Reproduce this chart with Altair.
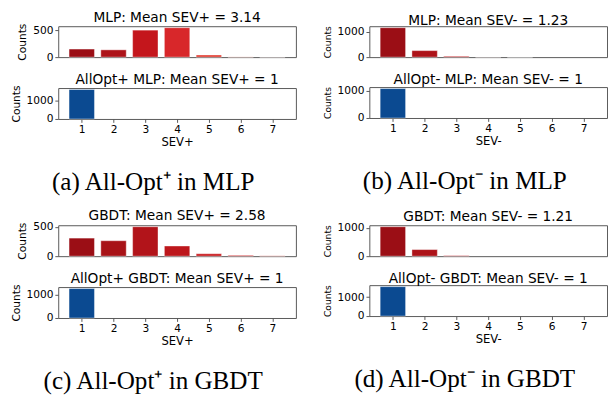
import altair as alt
import pandas as pd

bins = [1, 2, 3, 4, 5, 6, 7]

a_top = [150, 135, 500, 545, 40, 4, 1]
a_bot = [1580, 0, 0, 0, 0, 0, 0]
b_top = [1170, 260, 35, 2, 1, 0, 0]
b_bot = [1080, 0, 0, 0, 0, 0, 0]
c_top = [310, 265, 505, 175, 42, 15, 6]
c_bot = [1270, 0, 0, 0, 0, 0, 0]
d_top = [1040, 233, 20, 0, 0, 0, 0]
d_bot = [1560, 0, 0, 0, 0, 0, 0]

reds_fast = ["#9b0e15", "#ad1319", "#c4161c", "#d8272a", "#e23a2f", "#ec5a43", "#f4785c"]
reds_slow = ["#9b0e15", "#a81217", "#b2141a", "#bd171c", "#c91d21", "#d42527", "#de3a30"]
blues = ["#0b4a91"] * 7

titles = {
    "a_top": "MLP: Mean SEV+ = 3.14", "a_bot": "AllOpt+ MLP: Mean SEV+ = 1",
    "b_top": "MLP: Mean SEV- = 1.23", "b_bot": "AllOpt- MLP: Mean SEV- = 1",
    "c_top": "GBDT: Mean SEV+ = 2.58", "c_bot": "AllOpt+ GBDT: Mean SEV+ = 1",
    "d_top": "GBDT: Mean SEV- = 1.21", "d_bot": "AllOpt- GBDT: Mean SEV- = 1",
}
captions = {
    "a": "(a) All-Opt\u207a in MLP", "b": "(b) All-Opt\u207b in MLP",
    "c": "(c) All-Opt\u207a in GBDT", "d": "(d) All-Opt\u207b in GBDT",
}

SANS = "DejaVu Sans"
SERIF = "Liberation Serif"
FRAME = "#555555"

lo, hi = bins[0] - 0.4, bins[-1] + 0.4
pad = 0.05 * (hi - lo)
XDOM = [lo - pad, hi + pad]


def hist(counts, colors, ticks, title, xtitle, width, yts):
    df = pd.DataFrame({"bin": bins, "count": counts, "col": colors})
    if xtitle is None:
        xaxis = None
    else:
        xaxis = alt.Axis(values=bins, format="d", title=xtitle, tickSize=3.5,
                         tickColor=FRAME, labelFontSize=11, titleFontSize=12,
                         labelPadding=1, titlePadding=3, domain=False, grid=False,
                         labelFont=SANS, titleFont=SANS, titleFontWeight="normal",
                         labelColor="black", titleColor="black")
    yaxis = alt.Axis(values=ticks, format="d", title="Counts", tickSize=3.5,
                     tickColor=FRAME, labelFontSize=11, titleFontSize=yts,
                     labelPadding=2, titlePadding=5, domain=False, grid=False,
                     labelFont=SANS, titleFont=SANS, titleFontWeight="normal",
                     labelColor="black", titleColor="black")
    ymax = max(counts) * 1.05
    return (
        alt.Chart(df)
        .transform_filter("datum.count > 0")
        .transform_calculate(x0="datum.bin - 0.4", x1="datum.bin + 0.4")
        .mark_bar(stroke="white", strokeWidth=0.7, strokeOpacity=0.6)
        .encode(
            x=alt.X("x0:Q", scale=alt.Scale(domain=XDOM, nice=False, zero=False), axis=xaxis),
            x2="x1:Q",
            y=alt.Y("count:Q", scale=alt.Scale(domain=[0, ymax], nice=False), axis=yaxis),
            y2=alt.datum(0),
            color=alt.Color("col:N", scale=None, legend=None),
        )
        .properties(
            width=width, height=32,
            title=alt.TitleParams(title, font=SANS, fontSize=14.2, fontWeight="normal",
                                  color="black", offset=-2),
        )
    )


def panel(key, top, bot, tcolors, ttick, btick, xtitle, width, yts):
    t = hist(top, tcolors, ttick, titles[key + "_top"], None, width, yts)
    b = hist(bot, blues, btick, titles[key + "_bot"], xtitle, width, yts)
    return alt.vconcat(t, b, spacing=10).properties(
        title=alt.TitleParams(captions[key], orient="bottom", font=SERIF, fontSize=26,
                              fontWeight="normal", color="black", offset=22,
                              anchor="middle", frame="bounds")
    )


pa = panel("a", a_top, a_bot, reds_fast, [0, 500], [0, 1000], "SEV+", 246, 11)
pb = panel("b", b_top, b_bot, reds_fast, [0, 1000], [0, 1000], "SEV-", 246, 9.5)
pc = panel("c", c_top, c_bot, reds_slow, [0, 500], [0, 1000], "SEV+", 246, 11)
pd_ = panel("d", d_top, d_bot, reds_fast, [0, 1000], [0, 1000], "SEV-", 246, 9.5)

row1 = alt.hconcat(pa, pb, spacing=26)
row2 = alt.hconcat(pc, pd_, spacing=26)

chart = (
    alt.vconcat(row1, row2, spacing=15)
    .properties(padding={"top": -4, "left": 2, "right": 0, "bottom": 0}, background="white")
    .configure_view(stroke=FRAME, strokeWidth=1)
)

chart.save("out.html", embed_options={"renderer": "svg", "actions": False})
